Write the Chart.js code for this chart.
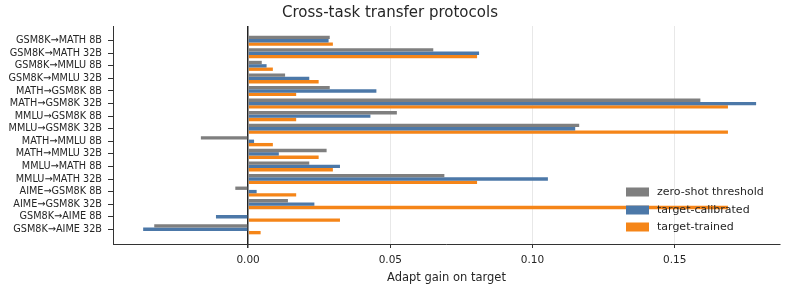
<!DOCTYPE html>
<html>
<head>
<meta charset="utf-8">
<script src="https://cdn.jsdelivr.net/npm/chart.js@4/dist/chart.umd.min.js"></script>
<style>
  html, body { margin: 0; padding: 0; background: #fff; }
  #wrap { width: 786px; height: 291px; }
</style>
</head>
<body>
<div id="wrap"><canvas id="chartTransfer"></canvas></div>
<script>
// data
const categories = [
  "GSM8K→MATH 8B", "GSM8K→MATH 32B", "GSM8K→MMLU 8B", "GSM8K→MMLU 32B",
  "MATH→GSM8K 8B", "MATH→GSM8K 32B", "MMLU→GSM8K 8B", "MMLU→GSM8K 32B",
  "MATH→MMLU 8B", "MATH→MMLU 32B", "MMLU→MATH 8B", "MMLU→MATH 32B",
  "AIME→GSM8K 8B", "AIME→GSM8K 32B", "GSM8K→AIME 8B", "GSM8K→AIME 32B"
];
const zeroShot = [0.0287, 0.0651, 0.0048, 0.0130, 0.0287, 0.1590, 0.0523, 0.1164,
  -0.0166, 0.0276, 0.0215, 0.0690, -0.0045, 0.0140, 0.0, -0.0330];
const targetCalibrated = [0.0283, 0.0812, 0.0065, 0.0215, 0.0451, 0.1786, 0.0430, 0.1150,
  0.0021, 0.0108, 0.0323, 0.1054, 0.0030, 0.0233, -0.0113, -0.0369];
const targetTrained = [0.0298, 0.0805, 0.0087, 0.0248, 0.0169, 0.1687, 0.0169, 0.1687,
  0.0087, 0.0248, 0.0298, 0.0805, 0.0169, 0.1687, 0.0323, 0.0044];
const xTicks = [0, 0.05, 0.10, 0.15];

const FONT = "'DejaVu Sans', sans-serif";
const INK = "#262626";

// bars sit on a numeric index axis so the end margins can match the original
const toPoints = (arr) => arr.map((v, i) => ({ x: v, y: i }));

// legend in the lower right of the plot area
const cornerLegend = {
  id: "cornerLegend",
  afterDraw(chart) {
    const ctx = chart.ctx;
    const x0 = 626, ys = [192, 210, 227];
    ctx.save();
    ctx.font = "11px " + FONT;
    ctx.textBaseline = "middle";
    chart.data.datasets.forEach((ds, i) => {
      ctx.fillStyle = ds.backgroundColor;
      ctx.fillRect(x0, ys[i] - 4.5, 23, 9);
      ctx.fillStyle = INK;
      ctx.fillText(ds.label, x0 + 31, ys[i]);
    });
    ctx.restore();
  }
};

new Chart(document.getElementById("chartTransfer"), {
  type: "bar",
  data: {
    datasets: [
      { label: "zero-shot threshold", data: toPoints(zeroShot), backgroundColor: "#7f7f7f" },
      { label: "target-calibrated", data: toPoints(targetCalibrated), backgroundColor: "#4c78a8" },
      { label: "target-trained", data: toPoints(targetTrained), backgroundColor: "#f58518" }
    ]
  },
  options: {
    indexAxis: "y",
    responsive: true,
    maintainAspectRatio: false,
    animation: false,
    datasets: { bar: { categoryPercentage: 0.8, barPercentage: 1.0 } },
    layout: { padding: { left: 0, right: 6, top: 0, bottom: 0 } },
    plugins: {
      legend: { display: false },
      tooltip: { enabled: false },
      title: {
        display: true,
        text: "Cross-task transfer protocols",
        color: INK,
        font: { family: FONT, size: 15, weight: "normal" },
        padding: { top: 4, bottom: 4 }
      }
    },
    scales: {
      x: {
        type: "linear",
        min: -0.0475,
        max: 0.187,
        afterBuildTicks: (s) => { s.ticks = xTicks.map(v => ({ value: v })); },
        afterFit: (s) => { s.height = 47; },
        ticks: {
          color: INK,
          font: { family: FONT, size: 10.5 },
          padding: 6,
          callback: (v) => Number(v).toFixed(2)
        },
        grid: {
          color: (c) => (c.tick && c.tick.value === 0 ? "#222" : "#e8e8e8"),
          lineWidth: (c) => (c.tick && c.tick.value === 0 ? 1.5 : 1),
          tickColor: "#333",
          tickLength: 4
        },
        border: { color: "#333", width: 1 },
        title: {
          display: true,
          text: "Adapt gain on target",
          color: INK,
          font: { family: FONT, size: 11.5 },
          padding: { top: 0, bottom: 6 }
        }
      },
      y: {
        type: "linear",
        reverse: true,
        offset: false,
        min: -1.17,
        max: categories.length - 1 + 1.17,
        afterBuildTicks: (s) => { s.ticks = categories.map((c, i) => ({ value: i })); },
        afterFit: (s) => { s.width = 113; },
        ticks: {
          color: INK,
          font: { family: FONT, size: 9.7 },
          padding: 6,
          autoSkip: false,
          callback: (v) => categories[v]
        },
        grid: {
          offset: false,
          drawOnChartArea: false,
          tickColor: "#333",
          tickLength: 5
        },
        border: { color: "#333", width: 1 }
      }
    }
  },
  plugins: [cornerLegend]
});
</script>
</body>
</html>
